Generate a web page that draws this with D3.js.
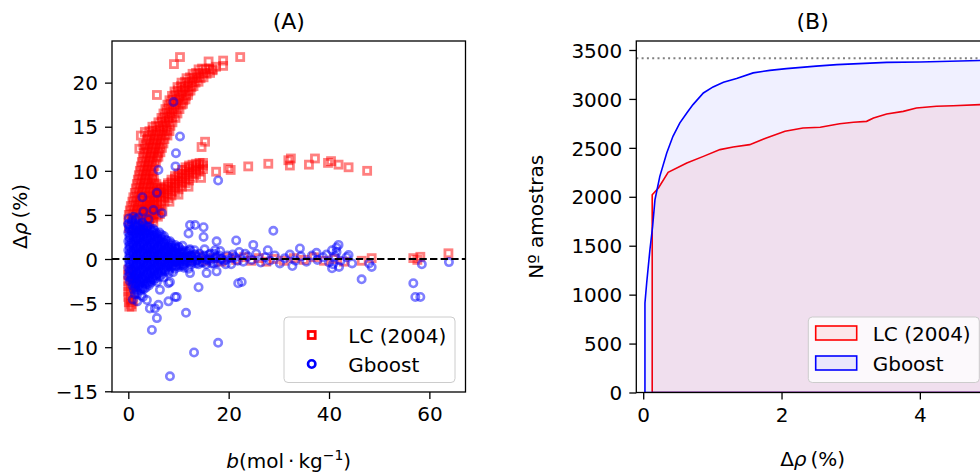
<!DOCTYPE html>
<html>
<head>
<meta charset="utf-8">
<script src="https://cdn.jsdelivr.net/npm/d3@7"></script>
<style>
  body { margin: 0; background: #fff; }
  svg text { font-family: 'DejaVu Sans', sans-serif; fill: #000; }
</style>
</head>
<body>
<svg id="chart" width="980" height="475"></svg>
<script>
// ---------- (A) deviation vs molality: LC (2004) ----------
// steep upper branch
const lcUpper = [
  [14.0,21.5],[14.7,21.6],[15.4,21.5],[16.1,21.6],[16.8,21.5],
  [12.8,21.0],[13.5,21.1],[14.2,21.0],[14.9,21.1],[15.6,21.0],[16.3,21.1],
  [11.6,20.5],[12.3,20.6],[13.0,20.5],[13.7,20.6],[14.4,20.5],[15.0,20.6],
  [10.6,20.0],[11.3,20.1],[12.0,20.0],[12.7,20.1],[13.4,20.0],[14.0,20.1],
  [9.8,19.5],[10.5,19.6],[11.2,19.5],[11.9,19.6],[12.6,19.5],[13.0,19.6],
  [9.2,19.0],[9.9,19.1],[10.6,19.0],[11.3,19.1],[12.0,19.0],[12.4,19.1],
  [8.7,18.5],[9.4,18.6],[10.1,18.5],[10.8,18.6],[11.5,18.5],[11.9,18.6],
  [8.2,18.0],[8.9,18.1],[9.6,18.0],[10.3,18.1],[11.0,18.0],[11.4,18.1],
  [7.8,17.5],[8.5,17.6],[9.2,17.5],[9.9,17.6],[10.6,17.5],[10.9,17.6],
  [7.4,17.0],[8.1,17.1],[8.8,17.0],[9.5,17.1],[10.2,17.0],
  [7.0,16.5],[7.7,16.6],[8.4,16.5],[9.1,16.6],[9.8,16.5],
  [6.6,16.0],[7.3,16.1],[8.0,16.0],[8.7,16.1],[9.4,16.0],
  [6.0,15.5],[6.7,15.6],[7.4,15.5],[8.1,15.6],[8.8,15.5],
  [4.8,15.0],[5.5,15.1],[6.2,15.0],[6.9,15.1],[7.6,15.0],[8.4,15.1],
  [4.2,14.5],[4.9,14.6],[5.6,14.5],[6.3,14.6],[7.0,14.5],[7.7,14.6],[8.2,14.5],
  [3.9,14.0],[4.6,14.1],[5.3,14.0],[6.0,14.1],[6.7,14.0],[7.4,14.1],[7.8,14.0],
  [3.7,13.5],[4.4,13.6],[5.1,13.5],[5.8,13.6],[6.5,13.5],[7.2,13.6],
  [3.5,13.0],[4.2,13.1],[4.9,13.0],[5.6,13.1],[6.3,13.0],[7.0,13.1],
  [3.3,12.5],[4.0,12.6],[4.7,12.5],[5.4,12.6],[6.1,12.5],[6.7,12.6],
  [3.1,12.0],[3.8,12.1],[4.5,12.0],[5.2,12.1],[5.9,12.0],[6.4,12.1],
  [2.9,11.5],[3.6,11.6],[4.3,11.5],[5.0,11.6],[5.7,11.5],[6.0,11.6],
  [2.7,11.0],[3.4,11.1],[4.1,11.0],[4.8,11.1],[5.5,11.0],
  [2.5,10.5],[3.2,10.6],[3.9,10.5],[4.6,10.6],[5.2,10.5],
  [2.3,10.0],[3.0,10.1],[3.7,10.0],[4.4,10.1],[4.9,10.0]
];
const lcUpperOut = [
  [10.3,22.9],[9.1,22.1],[16.0,22.4],[18.9,22.5],[18.9,21.9],[22.3,22.9],[16.8,21.4],[17.5,21.8],
  [5.7,18.6],[3.3,14.4],[3.0,12.9],[15.3,13.3],[14.6,12.7],[2.5,14.0],[2.2,12.5]
];
// thick middle band
const lcBand = [
  [3.0,3.7],[3.0,4.2],[3.0,4.7],[3.0,5.2],[3.0,5.6],
  [3.7,4.1],[3.7,4.6],[3.7,5.1],[3.7,5.6],[3.7,6.1],
  [4.4,4.6],[4.4,5.1],[4.4,5.6],[4.4,6.1],[4.4,6.6],
  [5.1,5.1],[5.1,5.6],[5.1,6.1],[5.1,6.6],[5.1,7.0],
  [5.8,5.6],[5.8,6.1],[5.8,6.6],[5.8,7.1],[5.8,7.5],
  [6.5,6.1],[6.5,6.6],[6.5,7.1],[6.5,7.6],[6.5,7.9],
  [7.2,6.5],[7.2,7.0],[7.2,7.5],[7.2,8.0],[7.2,8.2],
  [7.9,6.9],[7.9,7.4],[7.9,7.9],[7.9,8.4],[7.9,8.6],
  [8.6,7.2],[8.6,7.7],[8.6,8.2],[8.6,8.7],[8.6,9.0],
  [9.3,7.6],[9.3,8.1],[9.3,8.6],[9.3,9.1],[9.3,9.4],
  [10.0,7.9],[10.0,8.4],[10.0,8.9],[10.0,9.4],[10.0,9.7],
  [10.7,8.2],[10.7,8.7],[10.7,9.2],[10.7,9.7],[10.7,10.1],
  [11.4,8.6],[11.4,9.1],[11.4,9.6],[11.4,10.1],[11.4,10.4],
  [12.1,8.9],[12.1,9.4],[12.1,9.9],[12.1,10.4],[12.1,10.6],
  [12.8,9.2],[12.8,9.7],[12.8,10.2],[12.8,10.7],
  [13.5,9.6],[13.5,10.1],[13.5,10.5],[13.5,10.8],
  [14.2,9.9],[14.2,10.3],[14.2,10.7],[14.2,10.9],
  [14.9,10.2],[14.9,10.6],[14.9,10.9]
];
const lcPlateau = [
  [8.2,6.5],[10.0,7.3],[12.0,8.2],[14.5,9.2],[17.5,9.9],[19.9,10.3],[20.4,10.1],[23.9,10.5],[27.9,10.8],
  [31.9,11.2],[32.2,10.6],[32.4,11.4],[36.0,10.7],[37.2,11.4],[39.8,10.9],[40.4,11.1],[41.9,10.7],[43.9,10.4],[47.6,10.0]
];
// wide region close to zero molality
const lcLeft = [
  [2.1,9.5],[2.8,9.6],[3.5,9.5],[4.2,9.6],[4.8,9.5],
  [1.9,9.0],[2.6,9.1],[3.3,9.0],[4.0,9.1],[4.7,9.0],[5.1,9.1],
  [1.7,8.5],[2.4,8.6],[3.1,8.5],[3.8,8.6],[4.5,8.5],[5.2,8.6],[5.6,8.5],
  [1.5,8.0],[2.2,8.1],[2.9,8.0],[3.6,8.1],[4.3,8.0],[5.0,8.1],[5.7,8.0],[6.3,8.1],
  [1.3,7.5],[2.0,7.6],[2.7,7.5],[3.4,7.6],[4.1,7.5],[4.8,7.6],[5.5,7.5],[6.1,7.6],
  [1.0,7.0],[1.7,7.1],[2.4,7.0],[3.1,7.1],[3.8,7.0],[4.5,7.1],[5.2,7.0],
  [0.8,6.5],[1.5,6.6],[2.2,6.5],[2.9,6.6],[3.6,6.5],[4.3,6.6],[5.0,6.5],
  [0.5,6.0],[1.2,6.1],[1.9,6.0],[2.6,6.1],[3.3,6.0],[4.0,6.1],[4.6,6.0],
  [0.3,5.5],[1.0,5.6],[1.7,5.5],[2.4,5.6],[3.1,5.5],[3.8,5.6],[4.4,5.5],[5.0,5.6],[5.6,5.5],[6.2,5.6],
  [0.1,5.0],[0.8,5.1],[1.5,5.0],[2.2,5.1],[2.9,5.0],[3.6,5.1],[4.3,5.0],[4.9,5.1],[5.6,5.0],[6.3,5.1],
  [0.0,4.5],[0.7,4.6],[1.4,4.5],[2.1,4.6],[2.8,4.5],[3.5,4.6],[4.2,4.5],[4.9,4.6],
  [0.1,3.5],[0.8,3.3],[1.6,3.6],[2.4,3.2],[3.3,3.6],[4.1,4.0],[5.0,4.2],[5.9,4.8],[6.8,5.4]
];
const lcNeg = [
  [0.0,-1.2],[0.5,-1.4],[0.0,-1.8],[0.5,-2.1],[0.0,-2.5],[0.5,-2.8],[0.0,-3.1],[0.5,-3.4],[0.0,-3.7],[0.5,-4.0],
  [0.0,-4.3],[0.5,-4.6],[0.1,-4.9],[0.6,-5.1],[0.2,-5.4],[0.7,-5.4],[1.0,-4.8],[1.2,-3.9],[1.0,-3.0],[1.5,-2.2]
];
const lcZero = [
  [5.0,0.3],[6.5,-0.2],[8.0,0.1],[9.5,-0.3],[11.0,0.2],[12.5,-0.1],[14.0,0.3],[15.5,-0.2],[17.0,0.1],[18.5,-0.3],
  [20.0,0.2],[21.5,-0.1],[23.0,0.2],[24.5,-0.2],[26.0,0.1],[27.5,-0.3],[29.0,0.0],[31.0,-0.2],[33.0,0.1],[35.0,-0.1],
  [37.0,0.2],[39.0,-0.2],[41.0,0.0],[43.0,-0.3],[46.5,-0.2],[48.5,0.1],[56.8,0.1],[57.6,-0.1],[58.2,0.25],[63.8,0.65]
];

// ---------- (A) deviation vs molality: Gboost ----------
const gbCore = [
  [0.1,4.6],[0.8,4.4],[1.5,4.5],
  [0.0,4.0],[0.7,4.1],[1.4,3.9],[2.1,4.0],[2.8,4.1],
  [0.2,3.5],[0.9,3.4],[1.6,3.6],[2.3,3.5],[3.0,3.4],[3.7,3.6],[4.4,3.5],[5.0,3.4],
  [0.0,3.0],[0.7,3.1],[1.4,2.9],[2.1,3.0],[2.8,3.1],[3.5,2.9],[4.2,3.0],[4.9,3.1],[5.6,2.9],[6.2,3.0],
  [0.2,2.5],[0.9,2.6],[1.6,2.4],[2.3,2.5],[3.0,2.6],[3.7,2.4],[4.4,2.5],[5.1,2.6],[5.8,2.4],[6.5,2.5],[7.1,2.6],
  [0.0,2.0],[0.7,1.9],[1.4,2.1],[2.1,2.0],[2.8,1.9],[3.5,2.1],[4.2,2.0],[4.9,1.9],[5.6,2.1],[6.3,2.0],[7.0,1.9],[7.7,2.1],[8.3,2.0],
  [0.2,1.5],[0.9,1.6],[1.6,1.4],[2.3,1.5],[3.0,1.6],[3.7,1.4],[4.4,1.5],[5.1,1.6],[5.8,1.4],[6.5,1.5],[7.2,1.6],[7.9,1.4],[8.6,1.5],[9.3,1.6],[10.0,1.4],
  [0.0,1.0],[0.7,0.9],[1.4,1.1],[2.1,1.0],[2.8,0.9],[3.5,1.1],[4.2,1.0],[4.9,0.9],[5.6,1.1],[6.3,1.0],[7.0,0.9],[7.7,1.1],[8.4,1.0],[9.1,0.9],[9.8,1.1],[10.6,1.0],[11.4,0.9],[12.3,1.1],[13.2,1.0],
  [0.2,0.5],[0.9,0.6],[1.6,0.4],[2.3,0.5],[3.0,0.6],[3.7,0.4],[4.4,0.5],[5.1,0.6],[5.8,0.4],[6.5,0.5],[7.2,0.6],[7.9,0.4],[8.6,0.5],[9.3,0.6],[10.0,0.4],[10.8,0.5],[11.6,0.6],[12.4,0.4],[13.3,0.5],[14.2,0.6],[15.1,0.4],[16.1,0.5],[17.1,0.6],[18.1,0.4],
  [0.0,0.0],[0.7,-0.1],[1.4,0.1],[2.1,0.0],[2.8,-0.1],[3.5,0.1],[4.2,0.0],[4.9,-0.1],[5.6,0.1],[6.3,0.0],[7.0,-0.1],[7.7,0.1],[8.4,0.0],[9.1,-0.1],[9.8,0.1],[10.5,0.0],[11.3,-0.1],[12.1,0.1],[12.9,0.0],[13.7,-0.1],[14.6,0.1],[15.5,0.0],[16.4,-0.1],[17.4,0.1],[18.4,0.0],[19.5,-0.1],[20.6,0.1],
  [0.2,-0.5],[0.9,-0.4],[1.6,-0.6],[2.3,-0.5],[3.0,-0.4],[3.7,-0.6],[4.4,-0.5],[5.1,-0.4],[5.8,-0.6],[6.5,-0.5],[7.2,-0.4],[7.9,-0.6],[8.6,-0.5],[9.3,-0.4],[10.1,-0.6],[10.9,-0.5],[11.7,-0.4],[12.6,-0.6],[13.5,-0.5],[14.5,-0.4],[15.5,-0.6],[16.6,-0.5],[17.7,-0.4],
  [0.0,-1.0],[0.7,-1.1],[1.4,-0.9],[2.1,-1.0],[2.8,-1.1],[3.5,-0.9],[4.2,-1.0],[4.9,-1.1],[5.6,-0.9],[6.3,-1.0],[7.0,-1.1],[7.7,-0.9],[8.5,-1.0],[9.3,-1.1],[10.2,-0.9],[11.1,-1.0],[12.0,-1.1],
  [0.2,-1.5],[0.9,-1.4],[1.6,-1.6],[2.3,-1.5],[3.0,-1.4],[3.7,-1.6],[4.4,-1.5],[5.1,-1.4],[5.8,-1.6],[6.5,-1.5],[7.3,-1.4],[8.1,-1.6],[8.9,-1.5],
  [0.0,-2.0],[0.7,-2.1],[1.4,-1.9],[2.1,-2.0],[2.8,-2.1],[3.5,-1.9],[4.2,-2.0],[4.9,-2.1],[5.6,-1.9],[6.3,-2.0],[7.0,-2.1],
  [0.3,-2.5],[0.9,-2.4],[1.6,-2.6],[2.3,-2.5],[3.0,-2.4],[3.7,-2.6],[4.4,-2.5],[5.1,-2.4],[5.7,-2.6],
  [0.8,-3.0],[1.4,-2.9],[2.1,-3.0],[2.8,-3.1],[3.5,-2.9],[4.1,-3.0],
  [1.1,-3.5],[1.7,-3.6],[2.4,-3.5],[3.1,-3.4],
  [1.3,-4.0],[1.9,-3.9],[2.5,-4.1]
];
// second, offset layer of the dense Gboost cluster
const gbCoreFill = [
  [0.35,3.75],[1.05,3.8],[1.75,3.7],[2.45,3.75],[3.15,3.8],[3.85,3.7],
  [0.35,3.25],[1.05,3.2],[1.75,3.3],[2.45,3.25],[3.15,3.2],[3.85,3.3],[4.55,3.25],[5.25,3.2],
  [0.35,2.75],[1.05,2.8],[1.75,2.7],[2.45,2.75],[3.15,2.8],[3.85,2.7],[4.55,2.75],[5.25,2.8],[5.95,2.7],[6.6,2.75],
  [0.35,2.25],[1.05,2.2],[1.75,2.3],[2.45,2.25],[3.15,2.2],[3.85,2.3],[4.55,2.25],[5.25,2.2],[5.95,2.3],[6.65,2.25],[7.35,2.2],
  [0.35,1.75],[1.05,1.8],[1.75,1.7],[2.45,1.75],[3.15,1.8],[3.85,1.7],[4.55,1.75],[5.25,1.8],[5.95,1.7],[6.65,1.75],[7.35,1.8],[8.05,1.7],[8.6,1.75],
  [0.35,1.25],[1.05,1.2],[1.75,1.3],[2.45,1.25],[3.15,1.2],[3.85,1.3],[4.55,1.25],[5.25,1.2],[5.95,1.3],[6.65,1.25],[7.35,1.2],[8.05,1.3],[8.75,1.25],[9.45,1.2],[10.1,1.3],
  [0.35,0.75],[1.05,0.8],[1.75,0.7],[2.45,0.75],[3.15,0.8],[3.85,0.7],[4.55,0.75],[5.25,0.8],[5.95,0.7],[6.65,0.75],[7.35,0.8],[8.05,0.7],[8.75,0.75],[9.45,0.8],[10.2,0.7],[11.0,0.75],[11.8,0.8],
  [0.35,0.25],[1.05,0.2],[1.75,0.3],[2.45,0.25],[3.15,0.2],[3.85,0.3],[4.55,0.25],[5.25,0.2],[5.95,0.3],[6.65,0.25],[7.35,0.2],[8.05,0.3],[8.75,0.25],[9.45,0.2],[10.2,0.3],[11.0,0.25],[11.8,0.2],[12.6,0.3],[13.5,0.25],
  [0.35,-0.25],[1.05,-0.2],[1.75,-0.3],[2.45,-0.25],[3.15,-0.2],[3.85,-0.3],[4.55,-0.25],[5.25,-0.2],[5.95,-0.3],[6.65,-0.25],[7.35,-0.2],[8.05,-0.3],[8.75,-0.25],[9.45,-0.2],[10.2,-0.3],[11.0,-0.25],[11.8,-0.2],[12.6,-0.3],[13.5,-0.25],
  [0.35,-0.75],[1.05,-0.8],[1.75,-0.7],[2.45,-0.75],[3.15,-0.8],[3.85,-0.7],[4.55,-0.75],[5.25,-0.8],[5.95,-0.7],[6.65,-0.75],[7.35,-0.8],[8.05,-0.7],[8.75,-0.75],[9.5,-0.8],[10.3,-0.7],[11.0,-0.75],
  [0.35,-1.25],[1.05,-1.2],[1.75,-1.3],[2.45,-1.25],[3.15,-1.2],[3.85,-1.3],[4.55,-1.25],[5.25,-1.2],[5.95,-1.3],[6.65,-1.25],[7.35,-1.2],[8.1,-1.3],
  [0.35,-1.75],[1.05,-1.8],[1.75,-1.7],[2.45,-1.75],[3.15,-1.8],[3.85,-1.7],[4.55,-1.75],[5.25,-1.8],[5.95,-1.7],[6.65,-1.75],
  [0.55,-2.25],[1.25,-2.2],[1.95,-2.3],[2.65,-2.25],[3.35,-2.2],[4.05,-2.3],[4.75,-2.25],[5.45,-2.2],
  [1.05,-2.75],[1.75,-2.8],[2.45,-2.7],[3.15,-2.75],[3.85,-2.8],[4.5,-2.7],
  [1.4,-3.25],[2.1,-3.2],[2.8,-3.3],[3.5,-3.25]
];
const gbBand = [
  [7.5,0.9],[8.2,-0.4],[8.8,0.5],[9.4,1.3],[9.9,-0.2],[10.5,0.7],[11.0,-0.7],[11.6,0.3],[12.2,1.0],[12.8,-0.3],
  [13.4,0.5],[14.0,-0.6],[14.6,0.2],[15.2,1.1],[15.8,-0.1],[16.4,0.6],[17.0,-0.5],[17.6,0.3],[18.3,0.9],[19.0,-0.2],
  [19.7,0.4],[20.5,-0.6],[21.3,0.2],[22.1,0.8],[22.9,-0.3],[23.8,0.3],[24.6,-0.1],[25.5,0.6],[26.4,-0.4],[27.3,0.2],
  [28.2,-0.2],[29.2,0.4],[30.2,-0.5],[31.2,0.1],[32.2,0.5],[33.3,-0.2],[34.4,0.3],[35.5,-0.3],[36.6,0.4],[37.7,-0.1],
  [38.8,0.2],[40.0,-0.4],[41.2,0.3],[42.3,-0.2],[43.5,0.2],[44.6,-0.5],
  [8.5,0.1],[9.2,-0.8],[10.0,0.4],[10.8,1.5],[11.3,0.0],[12.5,0.4],[13.7,-0.1],[14.9,-0.4],[16.1,0.1],[17.3,1.0],
  [18.6,0.0],[19.4,-0.6],[20.8,0.5],[21.8,-0.2],[23.3,0.6],[39.5,0.5],[40.8,-0.6],[41.5,0.8],[42.0,-0.9]
];
const gbUpper = [
  [9.0,17.8],[10.3,13.9],[9.5,12.0],[9.4,10.5],[6.0,10.1],[17.9,8.9],[5.7,7.5],[2.8,7.0],[3.0,5.4],[5.0,5.55],
  [6.7,5.2],[2.0,4.7],[4.0,4.5],[1.0,4.8],[0.0,3.9],[12.3,3.85],[13.3,3.85],[15.0,3.6],[12.0,2.9],[15.0,2.5],
  [17.6,2.0],[21.5,2.1],[24.9,1.6],[28.9,3.2],[27.8,1.0],[34.2,1.2],[37.5,0.7],[40.6,1.0],[41.9,1.6],[41.5,1.3],[43.9,0.45]
];
const gbLow = [
  [22.6,-2.6],[14.0,-3.2],[12.3,-1.6],[15.6,-1.6],[17.6,-1.4],[21.9,-2.75],[9.65,-4.3],[8.0,-4.8],[11.5,-6.1],[5.7,-6.7],
  [4.7,-8.05],[5.3,-5.6],[4.3,-5.6],[6.0,-5.2],[3.7,-4.65],[6.3,-3.5],[8.3,-2.6],[8.0,-2.75],[9.3,-4.3],[17.9,-9.5],
  [13.1,-10.6],[8.3,-13.3],[32.7,-0.8],[40.6,-1.05],[46.5,-2.3],[48.5,-0.9],[48.0,-0.5],[56.8,-2.75],[57.2,-4.3],
  [58.2,-4.3],[58.5,-0.6],[63.9,-0.35],[0.9,-4.6],[1.8,-4.8],[2.9,-4.3]
];

// ---------- (B) cumulative number of samples below a deviation ----------
const lcCumDev = [0.13,0.13,0.22,0.36,0.63,0.87,1.11,1.30,1.54,1.78,2.05,2.31,2.56,2.84,3.04,3.23,3.33,3.52,3.76,3.95,4.24,4.48,4.87,5.20];
const lcCumN   = [0,2020,2090,2250,2345,2413,2482,2509,2533,2601,2669,2703,2710,2747,2761,2771,2805,2846,2873,2908,2925,2931,2942,2950];
const gbCumDev = [0.025,0.025,0.05,0.097,0.136,0.17,0.24,0.34,0.43,0.53,0.63,0.72,0.87,1.01,1.16,1.35,1.59,1.83,2.07,2.50,2.80,3.52,4.00,4.87,5.20];
const gbCumN   = [0,914,1119,1459,1697,1970,2209,2448,2618,2755,2857,2942,3061,3123,3170,3208,3266,3292,3310,3335,3351,3374,3378,3392,3394];
const totalSamples = 3415;

const yTicksA = [-15,-10,-5,0,5,10,15,20];
const xTicksA = [0,20,40,60];
const yTicksB = [0,500,1000,1500,2000,2500,3000,3500];
const xTicksB = [0,2,4];
const legendLabels = ['LC (2004)', 'Gboost'];

const RED = '#ff0000', BLUE = '#0000ff';

const svg = d3.select('#chart');
const A = {left: 112, right: 465.5, top: 41, bottom: 392};
const B = {left: 636.3, right: 989, top: 41, bottom: 392.5};

const xA = d3.scaleLinear().domain([-3.25, 67.2]).range([A.left, A.right]);
const yA = d3.scaleLinear().domain([-15.08, 24.72]).range([A.bottom, A.top]);
const xB = d3.scaleLinear().domain([-0.1, 5]).range([B.left, B.right]);
const yB = d3.scaleLinear().domain([0, 3592]).range([B.bottom, B.top]);

const defs = svg.append('defs');
defs.append('clipPath').attr('id', 'clipA').append('rect')
  .attr('x', A.left).attr('y', A.top).attr('width', A.right - A.left).attr('height', A.bottom - A.top);
defs.append('clipPath').attr('id', 'clipB').append('rect')
  .attr('x', B.left).attr('y', B.top).attr('width', B.right - B.left).attr('height', B.bottom - B.top);

// ---------- panel A ----------
const gA = svg.append('g').attr('clip-path', 'url(#clipA)');
const lcAll = [].concat(lcLeft, lcNeg, lcZero, lcBand, lcPlateau, lcUpper, lcUpperOut);
const gbAll = [].concat(gbCore, gbCoreFill, gbBand, gbUpper, gbLow);

const sq = 7;
gA.append('g').selectAll('rect').data(lcAll).join('rect')
  .attr('x', d => xA(d[0]) - sq / 2).attr('y', d => yA(d[1]) - sq / 2)
  .attr('width', sq).attr('height', sq)
  .attr('fill', 'none').attr('stroke', RED).attr('stroke-width', 2.8).attr('stroke-opacity', 0.5);

gA.append('g').selectAll('circle').data(gbAll).join('circle')
  .attr('cx', d => xA(d[0])).attr('cy', d => yA(d[1])).attr('r', 3.7)
  .attr('fill', 'none').attr('stroke', BLUE).attr('stroke-width', 2.6).attr('stroke-opacity', 0.5);

gA.append('line')
  .attr('x1', A.left).attr('x2', A.right).attr('y1', yA(0)).attr('y2', yA(0))
  .attr('stroke', '#000').attr('stroke-width', 2).attr('stroke-dasharray', '7.4,3.2');

// ---------- panel B ----------
const gB = svg.append('g').attr('clip-path', 'url(#clipB)');
function cumPolygon(devs, counts) {
  const pts = devs.map((d, i) => [xB(d), yB(counts[i])]);
  pts.push([xB(devs[devs.length - 1]), yB(0)]);
  return pts;
}
const lineGen = d3.line();
gB.append('path').attr('d', lineGen(cumPolygon(lcCumDev, lcCumN)) + 'Z')
  .attr('fill', RED).attr('fill-opacity', 0.07).attr('stroke', RED).attr('stroke-width', 1.6);
gB.append('path').attr('d', lineGen(cumPolygon(gbCumDev, gbCumN)) + 'Z')
  .attr('fill', BLUE).attr('fill-opacity', 0.06).attr('stroke', BLUE).attr('stroke-width', 1.6);
gB.append('line')
  .attr('x1', B.left).attr('x2', B.right).attr('y1', yB(totalSamples)).attr('y2', yB(totalSamples))
  .attr('stroke', '#808080').attr('stroke-width', 2).attr('stroke-dasharray', '2,3.3');

// ---------- frames and axes ----------
function frame(P) {
  svg.append('rect').attr('x', P.left).attr('y', P.top)
    .attr('width', P.right - P.left).attr('height', P.bottom - P.top)
    .attr('fill', 'none').attr('stroke', '#000').attr('stroke-width', 1.3);
}
frame(A); frame(B);

function styleAxis(g) {
  g.select('.domain').remove();
  g.selectAll('.tick line').attr('stroke', '#000').attr('stroke-width', 1.3);
  g.selectAll('.tick text').attr('font-size', 20).attr('font-family', 'DejaVu Sans');
}
const fmtInt = d3.format('d');
svg.append('g').attr('transform', `translate(${A.left},0)`)
  .call(d3.axisLeft(yA).tickValues(yTicksA).tickFormat(fmtInt).tickSize(7).tickPadding(7))
  .call(styleAxis).selectAll('.tick text').attr('dy', '0.36em');
svg.append('g').attr('transform', `translate(0,${A.bottom})`)
  .call(d3.axisBottom(xA).tickValues(xTicksA).tickFormat(fmtInt).tickSize(7).tickPadding(8))
  .call(styleAxis);
svg.append('g').attr('transform', `translate(${B.left},0)`)
  .call(d3.axisLeft(yB).tickValues(yTicksB).tickFormat(fmtInt).tickSize(7).tickPadding(7))
  .call(styleAxis).selectAll('.tick text').attr('dy', '0.36em');
svg.append('g').attr('transform', `translate(0,${B.bottom})`)
  .call(d3.axisBottom(xB).tickValues(xTicksB).tickFormat(fmtInt).tickSize(7).tickPadding(8))
  .call(styleAxis);

// ---------- titles and labels ----------
const cxA = (A.left + A.right) / 2, cxB = (B.left + B.right) / 2;
svg.append('text').attr('x', cxA).attr('y', 28.5).attr('text-anchor', 'middle').attr('font-size', 22).text('(A)');
svg.append('text').attr('x', cxB).attr('y', 28.5).attr('text-anchor', 'middle').attr('font-size', 22).text('(B)');

const xlabA = svg.append('text').attr('x', cxA).attr('y', 468).attr('text-anchor', 'middle').attr('font-size', 20);
xlabA.append('tspan').attr('font-style', 'italic').text('b');
xlabA.append('tspan').text('(mol\u2009·\u2009kg');
xlabA.append('tspan').attr('font-size', 14).attr('dy', -8).text('\u22121');
xlabA.append('tspan').attr('dy', 8).text(')');

const xlabB = svg.append('text').attr('x', cxB).attr('y', 466.3).attr('text-anchor', 'middle').attr('font-size', 20);
xlabB.append('tspan').text('Δ');
xlabB.append('tspan').attr('font-style', 'italic').text('ρ');
xlabB.append('tspan').text('\u2009(%)');

const ylabA = svg.append('text').attr('transform', `translate(27,${(A.top + A.bottom) / 2}) rotate(-90)`)
  .attr('text-anchor', 'middle').attr('font-size', 20);
ylabA.append('tspan').text('Δ');
ylabA.append('tspan').attr('font-style', 'italic').text('ρ');
ylabA.append('tspan').text('\u2009(%)');

svg.append('text').attr('transform', `translate(543,${(B.top + B.bottom) / 2}) rotate(-90)`)
  .attr('text-anchor', 'middle').attr('font-size', 20).text('Nº amostras');

// ---------- legends ----------
function legendBox(x, y) {
  svg.append('rect').attr('x', x).attr('y', y).attr('width', 171).attr('height', 65.5).attr('rx', 4)
    .attr('fill', '#fff').attr('fill-opacity', 0.8).attr('stroke', '#cccccc').attr('stroke-width', 1);
}
// panel A legend
legendBox(284, 317);
svg.append('rect').attr('x', 311.7 - sq / 2).attr('y', 335 - sq / 2).attr('width', sq).attr('height', sq)
  .attr('fill', 'none').attr('stroke', RED).attr('stroke-width', 2.8);
svg.append('circle').attr('cx', 311.7).attr('cy', 364).attr('r', 3.7)
  .attr('fill', 'none').attr('stroke', BLUE).attr('stroke-width', 2.6);
svg.append('text').attr('x', 348.3).attr('y', 342.5).attr('font-size', 20).text(legendLabels[0]);
svg.append('text').attr('x', 348.3).attr('y', 371.5).attr('font-size', 20).text(legendLabels[1]);

// panel B legend
legendBox(808.3, 317);
svg.append('rect').attr('x', 815.7).attr('y', 326).attr('width', 41).attr('height', 14)
  .attr('fill', RED).attr('fill-opacity', 0.07).attr('stroke', RED).attr('stroke-width', 1.6);
svg.append('rect').attr('x', 815.7).attr('y', 356).attr('width', 41).attr('height', 14)
  .attr('fill', BLUE).attr('fill-opacity', 0.07).attr('stroke', BLUE).attr('stroke-width', 1.6);
svg.append('text').attr('x', 872.7).attr('y', 341.3).attr('font-size', 20).text(legendLabels[0]);
svg.append('text').attr('x', 872.7).attr('y', 370.5).attr('font-size', 20).text(legendLabels[1]);
</script>
</body>
</html>
